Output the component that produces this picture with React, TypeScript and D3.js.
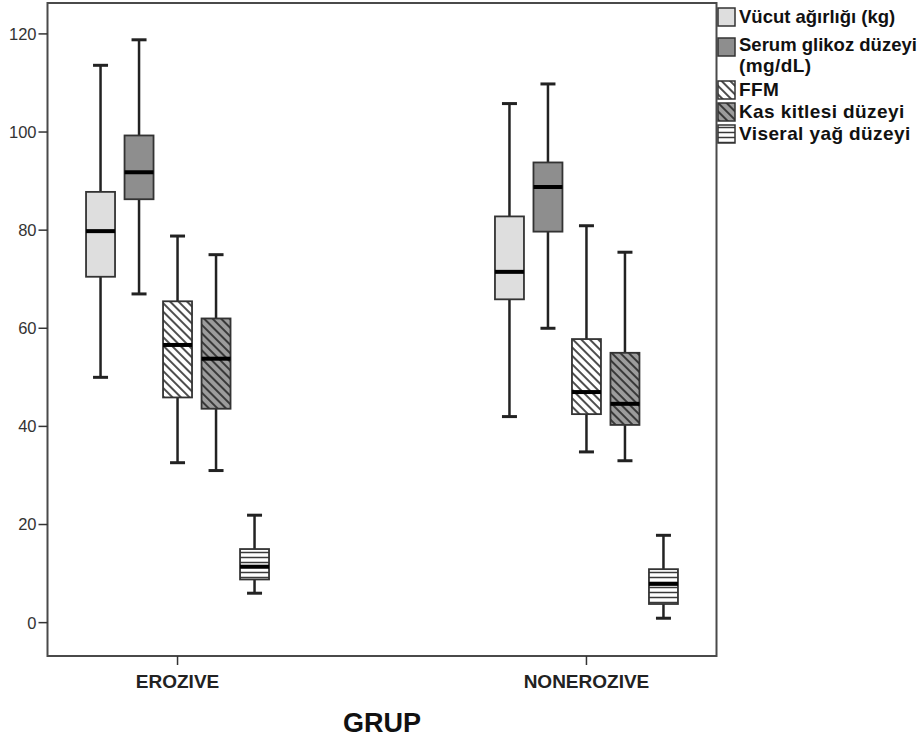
import React, { useEffect, useRef } from "react";
import * as d3 from "d3";

// Groups on the x axis and the five measured variables
const groups = ["EROZIVE", "NONEROZIVE"];
const seriesNames = [
  "Vücut ağırlığı (kg)",
  "Serum glikoz düzeyi (mg/dL)",
  "FFM",
  "Kas kitlesi düzeyi",
  "Viseral yağ düzeyi",
];
const yTicks = [0, 20, 40, 60, 80, 100, 120];

// Box-plot summaries, one row per variable, columns follow `groups`
const whiskerLow = [
  [50, 42],
  [67, 60],
  [32.6, 34.8],
  [31, 33],
  [6, 0.9],
];
const q1 = [
  [70.5, 65.9],
  [86.3, 79.7],
  [45.9, 42.5],
  [43.6, 40.3],
  [8.8, 3.8],
];
const median = [
  [79.8, 71.5],
  [91.8, 88.8],
  [56.6, 47.0],
  [53.8, 44.6],
  [11.4, 7.9],
];
const q3 = [
  [87.8, 82.8],
  [99.3, 93.8],
  [65.5, 57.8],
  [62.0, 55.0],
  [15.0, 10.9],
];
const whiskerHigh = [
  [113.6, 105.8],
  [118.8, 109.8],
  [78.8, 80.9],
  [75.0, 75.5],
  [21.9, 17.8],
];

const W = 922;
const H = 742;
const frame = { left: 47.5, right: 716.5, top: 3, bottom: 656 };

export default function App() {
  const ref = useRef<SVGSVGElement>(null);

  useEffect(() => {
    const svg = d3.select(ref.current);
    svg.selectAll("*").remove();

    const font = "'Liberation Sans', Arial, sans-serif";

    // Fill patterns
    const defs = svg.append("defs");
    const diag = (id: string, bg: string, fg: string) => {
      const p = defs
        .append("pattern")
        .attr("id", id)
        .attr("patternUnits", "userSpaceOnUse")
        .attr("width", 6)
        .attr("height", 6)
        .attr("patternTransform", "rotate(45)");
      p.append("rect").attr("width", 6).attr("height", 6).attr("fill", bg);
      p.append("line")
        .attr("x1", 0)
        .attr("y1", 3)
        .attr("x2", 6)
        .attr("y2", 3)
        .attr("stroke", fg)
        .attr("stroke-width", 1.8);
    };
    diag("pat-ffm", "#ffffff", "#3a3a3a");
    diag("pat-kas", "#9c9c9c", "#2e2e2e");
    const hp = defs
      .append("pattern")
      .attr("id", "pat-vis")
      .attr("patternUnits", "userSpaceOnUse")
      .attr("width", 6)
      .attr("height", 5);
    hp.append("rect").attr("width", 6).attr("height", 5).attr("fill", "#ffffff");
    hp.append("line")
      .attr("x1", 0)
      .attr("y1", 2.5)
      .attr("x2", 6)
      .attr("y2", 2.5)
      .attr("stroke", "#3a3a3a")
      .attr("stroke-width", 1.5);

    const fills = [
      "#dedede",
      "#8e8e8e",
      "url(#pat-ffm)",
      "url(#pat-kas)",
      "url(#pat-vis)",
    ];

    const y = d3
      .scaleLinear()
      .domain([-6.8, 126.3])
      .range([frame.bottom, frame.top]);
    const x = d3
      .scalePoint<string>()
      .domain(groups)
      .range([frame.left, frame.right])
      .padding(0.318);
    const sub = d3
      .scaleBand<string>()
      .domain(seriesNames)
      .range([-96.25, 96.25])
      .paddingInner(0.247)
      .paddingOuter(0.1235);
    const bw = sub.bandwidth();
    const capW = 15;

    // Plot frame
    svg
      .append("rect")
      .attr("x", frame.left)
      .attr("y", frame.top)
      .attr("width", frame.right - frame.left)
      .attr("height", frame.bottom - frame.top)
      .attr("fill", "#fff")
      .attr("stroke", "#4a4a4a")
      .attr("stroke-width", 2);

    // Y axis ticks and labels
    const yg = svg.append("g");
    yTicks.forEach((t) => {
      yg.append("line")
        .attr("x1", frame.left - 9)
        .attr("x2", frame.left)
        .attr("y1", y(t))
        .attr("y2", y(t))
        .attr("stroke", "#333")
        .attr("stroke-width", 1.5);
      yg.append("text")
        .attr("x", frame.left - 11)
        .attr("y", y(t))
        .attr("dy", "0.36em")
        .attr("text-anchor", "end")
        .attr("font-family", font)
        .attr("font-size", 16.5)
        .attr("fill", "#333")
        .text(t);
    });

    // X axis ticks and labels
    groups.forEach((g) => {
      svg
        .append("line")
        .attr("x1", x(g)!)
        .attr("x2", x(g)!)
        .attr("y1", frame.bottom)
        .attr("y2", frame.bottom + 9)
        .attr("stroke", "#333")
        .attr("stroke-width", 1.5);
      svg
        .append("text")
        .attr("x", x(g)!)
        .attr("y", 688)
        .attr("text-anchor", "middle")
        .attr("font-family", font)
        .attr("font-weight", "bold")
        .attr("font-size", 19)
        .attr("fill", "#222")
        .text(g);
    });

    svg
      .append("text")
      .attr("x", (frame.left + frame.right) / 2)
      .attr("y", 732)
      .attr("text-anchor", "middle")
      .attr("font-family", font)
      .attr("font-weight", "bold")
      .attr("font-size", 27)
      .attr("fill", "#111")
      .text("GRUP");

    // Boxes
    const boxes = svg.append("g");
    seriesNames.forEach((s, si) => {
      groups.forEach((g, gi) => {
        const cx = x(g)! + sub(s)! + bw / 2;
        const lo = whiskerLow[si][gi];
        const hi = whiskerHigh[si][gi];
        const a = q1[si][gi];
        const b = q3[si][gi];
        const m = median[si][gi];
        const bx = boxes.append("g");
        // whiskers
        bx.append("line")
          .attr("x1", cx)
          .attr("x2", cx)
          .attr("y1", y(hi))
          .attr("y2", y(b))
          .attr("stroke", "#222")
          .attr("stroke-width", 2.5);
        bx.append("line")
          .attr("x1", cx)
          .attr("x2", cx)
          .attr("y1", y(a))
          .attr("y2", y(lo))
          .attr("stroke", "#222")
          .attr("stroke-width", 2.5);
        [lo, hi].forEach((v) => {
          bx.append("line")
            .attr("x1", cx - capW / 2)
            .attr("x2", cx + capW / 2)
            .attr("y1", y(v))
            .attr("y2", y(v))
            .attr("stroke", "#222")
            .attr("stroke-width", 3);
        });
        // box
        bx.append("rect")
          .attr("x", cx - bw / 2)
          .attr("y", y(b))
          .attr("width", bw)
          .attr("height", y(a) - y(b))
          .attr("fill", fills[si])
          .attr("stroke", "#333")
          .attr("stroke-width", 1.8);
        // median
        bx.append("line")
          .attr("x1", cx - bw / 2)
          .attr("x2", cx + bw / 2)
          .attr("y1", y(m))
          .attr("y2", y(m))
          .attr("stroke", "#000")
          .attr("stroke-width", 4);
      });
    });

    // Legend
    const legendRows = [
      { swatchY: 8, lines: ["Vücut ağırlığı (kg)"], baseY: [23] },
      { swatchY: 38, lines: ["Serum glikoz düzeyi", "(mg/dL)"], baseY: [51, 72] },
      { swatchY: 81, lines: ["FFM"], baseY: [96] },
      { swatchY: 103, lines: ["Kas kitlesi düzeyi"], baseY: [118] },
      { swatchY: 125, lines: ["Viseral yağ düzeyi"], baseY: [140] },
    ];
    const lg = svg.append("g");
    legendRows.forEach((r, i) => {
      lg.append("rect")
        .attr("x", 718)
        .attr("y", r.swatchY)
        .attr("width", 17)
        .attr("height", 18)
        .attr("fill", fills[i])
        .attr("stroke", "#333")
        .attr("stroke-width", 1.5);
      r.lines.forEach((t, li) => {
        // the longest line is kept tight so it stays inside the page
        const long = t.length > 18;
        lg.append("text")
          .attr("x", 739)
          .attr("y", r.baseY[li])
          .attr("font-family", font)
          .attr("font-weight", "bold")
          .attr("font-size", long ? 18.5 : 19)
          .attr("letter-spacing", long ? 0 : 0.4)
          .attr("fill", "#111")
          .text(t);
      });
    });
  }, []);

  return (
    <svg
      ref={ref}
      width={W}
      height={H}
      style={{ position: "absolute", left: 0, top: 0, background: "#fff" }}
    />
  );
}
